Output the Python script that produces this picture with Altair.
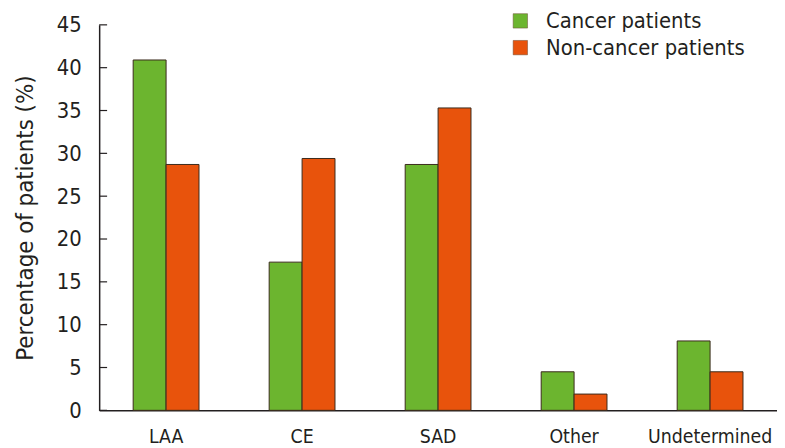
import altair as alt
import pandas as pd

categories = ["LAA", "CE", "SAD", "Other", "Undetermined"]
series = ["Cancer patients", "Non-cancer patients"]
cancer = [40.9, 17.3, 28.7, 4.5, 8.1]
non_cancer = [28.7, 29.4, 35.3, 1.9, 4.5]
y_ticks = [0, 5, 10, 15, 20, 25, 30, 35, 40, 45]

rows = []
for c, a, b in zip(categories, cancer, non_cancer):
    rows.append({"category": c, "series": series[0], "value": a})
    rows.append({"category": c, "series": series[1], "value": b})
df = pd.DataFrame(rows)
ticks_df = pd.DataFrame({"value": y_ticks})

FONT = "'DejaVu Sans Condensed', 'Roboto', sans-serif"
INK = "#231f20"

yscale = alt.Scale(domain=[0, 45], nice=False)

bars = alt.Chart(df).mark_bar(stroke="#3b2a1c", strokeWidth=1).encode(
    x=alt.X("category:N", sort=categories,
            scale=alt.Scale(paddingInner=0.516, paddingOuter=0.25),
            axis=alt.Axis(title=None, labelAngle=0, ticks=False, labelPadding=17,
                          labelFontSize=19.5, labelFont=FONT, labelColor=INK,
                          domainColor=INK, domainWidth=1.5)),
    xOffset=alt.XOffset("series:N", sort=series),
    y=alt.Y("value:Q", scale=yscale,
            axis=alt.Axis(title="Percentage of patients (%)", values=y_ticks,
                          ticks=False, labelPadding=18, labelFontSize=22, labelFont=FONT,
                          labelColor=INK, titleFont=FONT, titleFontSize=24,
                          titleFontWeight="normal", titleColor=INK,
                          titlePadding=19, domainColor=INK, domainWidth=1.5,
                          grid=False)),
    color=alt.Color("series:N", sort=series,
                    scale=alt.Scale(domain=series, range=["#6cb52f", "#e8530c"]),
                    legend=alt.Legend(title=None, orient="none", legendX=414, legendY=-15,
                                      symbolType="square", symbolSize=210,
                                      symbolStrokeColor="#6a4a30", symbolStrokeWidth=0.5,
                                      labelFont=FONT, labelFontSize=22, labelColor=INK,
                                      labelLimit=400, labelOffset=15, rowPadding=5)),
)

ticks = alt.Chart(ticks_df).mark_rule(color=INK, strokeWidth=1.2).encode(
    y=alt.Y("value:Q", scale=yscale),
    x=alt.value(0),
    x2=alt.value(8),
)

chart = alt.layer(bars, ticks).properties(
    width=684, height=389,
    padding={"left": 5, "top": 0, "right": 0, "bottom": 0},
).configure_view(stroke=None)

chart.save("out.html", embed_options={"renderer": "svg", "actions": False})
